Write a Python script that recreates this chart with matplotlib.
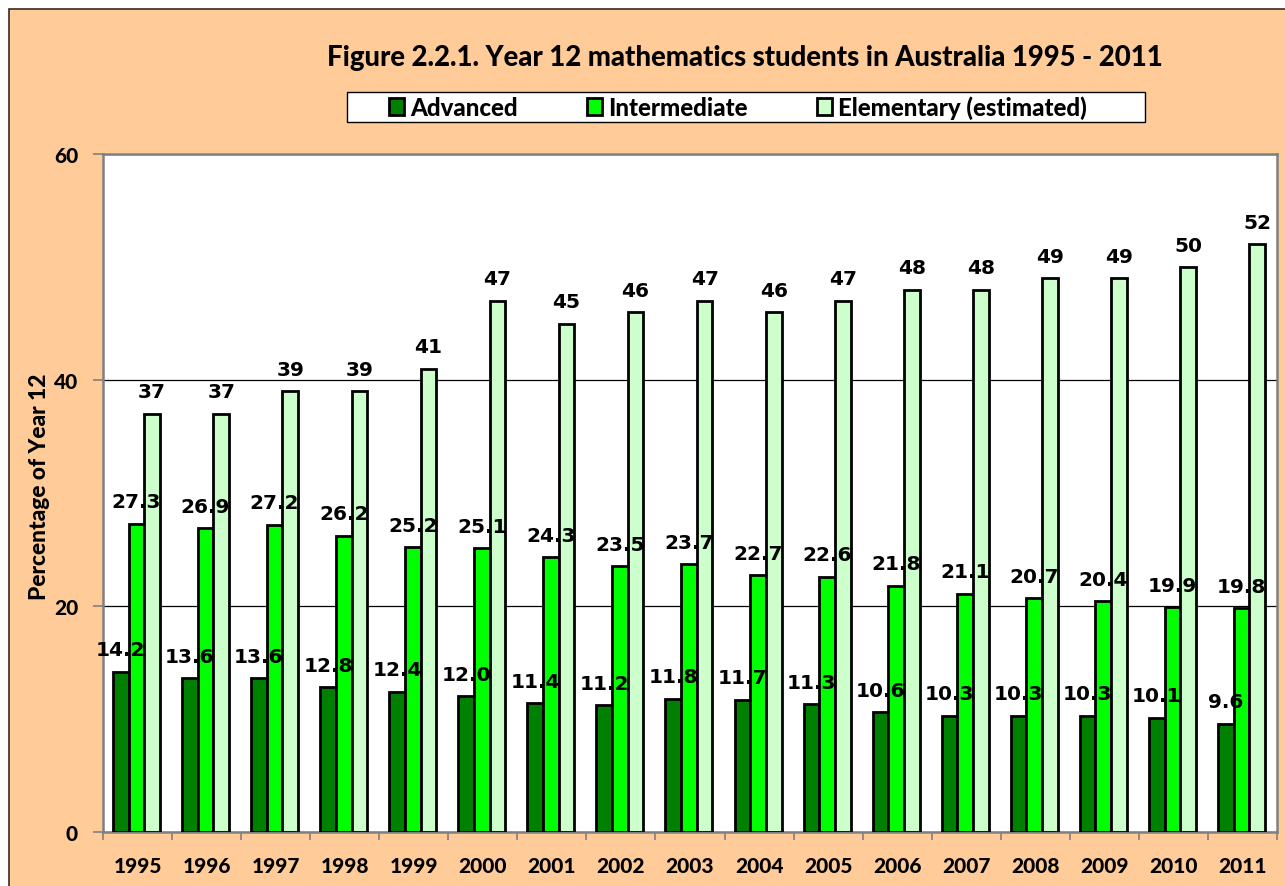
import matplotlib
matplotlib.use("Agg")
import matplotlib.pyplot as plt
import numpy as np
from matplotlib.patches import Rectangle

years = ["1995", "1996", "1997", "1998", "1999", "2000", "2001", "2002", "2003",
         "2004", "2005", "2006", "2007", "2008", "2009", "2010", "2011"]
advanced = [14.2, 13.6, 13.6, 12.8, 12.4, 12.0, 11.4, 11.2, 11.8,
            11.7, 11.3, 10.6, 10.3, 10.3, 10.3, 10.1, 9.6]
intermediate = [27.3, 26.9, 27.2, 26.2, 25.2, 25.1, 24.3, 23.5, 23.7,
                22.7, 22.6, 21.8, 21.1, 20.7, 20.4, 19.9, 19.8]
elementary = [37, 37, 39, 39, 41, 47, 45, 46, 47, 46, 47, 48, 48, 49, 49, 50, 52]

series = ["Advanced", "Intermediate", "Elementary (estimated)"]
colors = ["#008000", "#00ff00", "#ccffcc"]
label_fmt = ["{:.1f}", "{:.1f}", "{:.0f}"]

plt.rcParams["font.family"] = ["Lato", "DejaVu Sans"]
plt.rcParams["font.weight"] = 900
plt.rcParams["xtick.labelsize"] = 15
plt.rcParams["ytick.labelsize"] = 15

W, H = 1285, 887
fig = plt.figure(figsize=(W / 100, H / 100), dpi=100)
fig.patch.set_facecolor("white")

# peach chart area with dark left/top edge
bg = Rectangle((9 / W, -0.05), 1.0, 1.05 - 10 / H, transform=fig.transFigure,
               facecolor="#ffcc99", edgecolor="#3a2a1a", linewidth=1.2, zorder=-5)
fig.patches.append(bg)

ax = fig.add_axes([103 / W, 1 - 833 / H, (1277 - 103) / W, (833 - 155) / H])
ax.set_facecolor("white")

x = np.arange(len(years))
bw = 0.227
offsets = [-bw, 0, bw]
data = [advanced, intermediate, elementary]
handles = []
for vals, off, c, name, fmt in zip(data, offsets, colors, series, label_fmt):
    b = ax.bar(x + off - 0.015, vals, width=bw, color=c, edgecolor="black",
               linewidth=2.0, label=name, zorder=3)
    handles.append(b)
    for xi, v in zip(x, vals):
        ax.annotate(fmt.format(v), (xi + off - 0.015, v), xytext=(0, 9),
                    textcoords="offset points", ha="center", va="bottom",
                    fontsize=14.5, fontweight="bold", family="DejaVu Sans",
                    zorder=5)

ax.set_xlim(-0.5, len(years) - 0.5)
ax.set_ylim(0, 60)
ax.set_yticks([0, 20, 40, 60])
ax.yaxis.grid(True, color="black", linewidth=0.9, zorder=0)
ax.set_axisbelow(True)

ax.set_xticks(x)
ax.set_xticklabels(years)
ax.set_xticks(np.arange(-0.5, len(years)), minor=True)
ax.tick_params(axis="x", which="major", length=0, pad=17)
ax.tick_params(axis="x", which="minor", length=6, color="#808080", width=1.2)
ax.tick_params(axis="y", length=7, color="#808080", width=1.2, pad=11)

for side in ["left", "bottom", "top", "right"]:
    ax.spines[side].set_color("#808080")
    ax.spines[side].set_linewidth(1.8)

fig.text(40 / W, 1 - 487 / H, "Percentage of Year 12", rotation=90,
         ha="center", va="center", fontsize=16.4, fontweight=900)

fig.text(745 / W, 1 - 58 / H,
         "Figure 2.2.1. Year 12 mathematics students in Australia 1995 - 2011",
         ha="center", va="center", fontsize=19.8, fontweight=900)

# legend box
frame = Rectangle((347 / W, 1 - 123 / H), (1145 - 347) / W, 30 / H,
                  transform=fig.transFigure, facecolor="white",
                  edgecolor="black", linewidth=1.0, zorder=1)
fig.patches.append(frame)
leg = fig.legend(handles=handles, labels=series, loc="center",
                 bbox_to_anchor=(738 / W, 1 - 108 / H), ncol=3,
                 frameon=False,
                 prop={"family": "Lato", "weight": 900, "size": 17.3},
                 handlelength=0.62, handleheight=0.72, handletextpad=0.25,
                 columnspacing=2.9, borderpad=0.2, borderaxespad=0)
leg.set_zorder(2)

fig.savefig("out.png", dpi=100, facecolor=fig.get_facecolor())
